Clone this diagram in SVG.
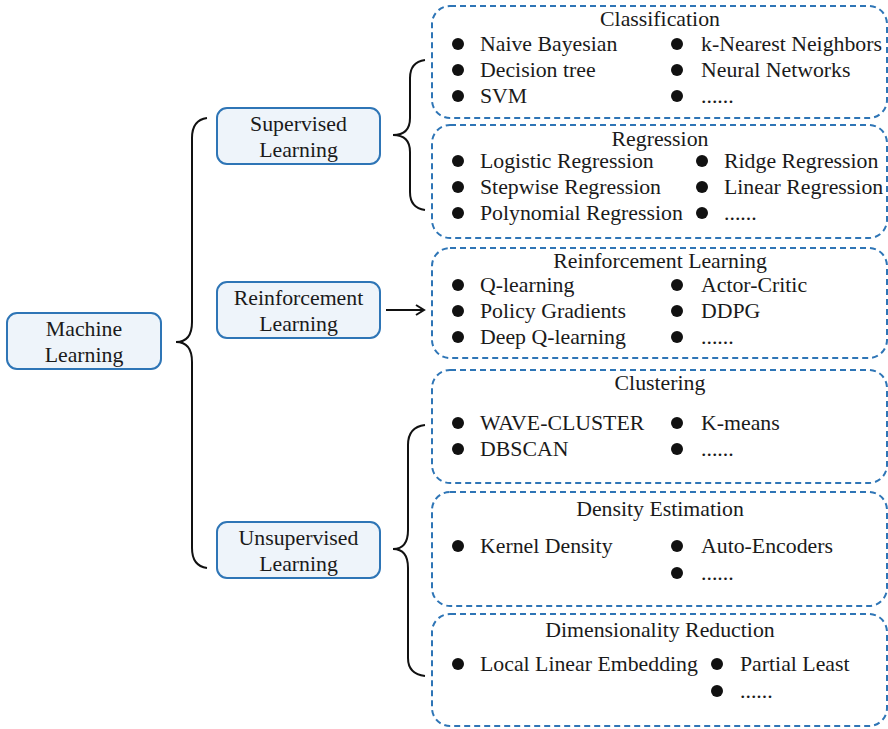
<svg xmlns="http://www.w3.org/2000/svg" width="888" height="729" viewBox="0 0 888 729">
<defs>
<style>
text{font-family:"Liberation Serif","Times New Roman",serif;font-size:21.8px;fill:#1a1a1a}
.t{text-anchor:middle}
.node{fill:#EEF4FA;stroke:#2E75B6;stroke-width:2}
.grp{fill:#fff;stroke:#2E75B6;stroke-width:2;stroke-dasharray:6 4}
.br{fill:none;stroke:#111;stroke-width:2}
.b{fill:#111}
</style>
<marker id="ah" markerWidth="12" markerHeight="12" refX="10" refY="6" orient="auto" markerUnits="userSpaceOnUse">
<path d="M2,1 L10,6 L2,11" fill="none" stroke="#111" stroke-width="2"/>
</marker>
</defs>
<rect width="888" height="729" fill="#fff"/>
<g id="connectors">
<path class="br" d="M207,118 Q192,120 192,138 L192,322 Q192,342 176,342 Q192,342 192,362 L192,548 Q192,566 207,568"/>
<path class="br" d="M425,60 Q410,62 410,78 L410,118 Q410,135 393,135 Q410,135 410,152 L410,192 Q410,208 425,210"/>
<path class="br" d="M425,425 Q408,427 408,445 L408,530 Q408,549 393,549 Q408,549 408,568 L408,658 Q408,674 425,676"/>
<line x1="386" y1="310" x2="424" y2="310" stroke="#111" stroke-width="2" marker-end="url(#ah)"/>
</g>
<g id="ml">
<rect class="node" x="7" y="313" width="154" height="56" rx="10"/>
<text class="t" x="84" y="336">Machine</text>
<text class="t" x="84" y="362">Learning</text>
</g>
<g id="supervised">
<rect class="node" x="217" y="108" width="163" height="56" rx="10"/>
<text class="t" x="298.5" y="131">Supervised</text>
<text class="t" x="298.5" y="157">Learning</text>
</g>
<g id="reinforcement">
<rect class="node" x="217" y="282" width="163" height="56" rx="10"/>
<text class="t" x="298.5" y="305">Reinforcement</text>
<text class="t" x="298.5" y="331">Learning</text>
</g>
<g id="unsupervised">
<rect class="node" x="217" y="522" width="163" height="56" rx="10"/>
<text class="t" x="298.5" y="545">Unsupervised</text>
<text class="t" x="298.5" y="571">Learning</text>
</g>
<g id="classification">
<rect class="grp" x="432" y="6" width="455" height="112" rx="18"/>
<text class="t" x="660" y="26">Classification</text>
<circle class="b" cx="458" cy="44" r="6"/><text x="480" y="51">Naive Bayesian</text>
<circle class="b" cx="458" cy="70" r="6"/><text x="480" y="77">Decision tree</text>
<circle class="b" cx="458" cy="96" r="6"/><text x="480" y="103">SVM</text>
<circle class="b" cx="677" cy="44" r="6"/><text x="701" y="51">k-Nearest Neighbors</text>
<circle class="b" cx="677" cy="70" r="6"/><text x="701" y="77">Neural Networks</text>
<circle class="b" cx="677" cy="96" r="6"/><text x="701" y="103">......</text>
</g>
<g id="regression">
<rect class="grp" x="432" y="125" width="455" height="113" rx="18"/>
<text class="t" x="660" y="146">Regression</text>
<circle class="b" cx="458" cy="161" r="6"/><text x="480" y="168">Logistic Regression</text>
<circle class="b" cx="458" cy="187" r="6"/><text x="480" y="194">Stepwise Regression</text>
<circle class="b" cx="458" cy="213" r="6"/><text x="480" y="220">Polynomial Regression</text>
<circle class="b" cx="702" cy="161" r="6"/><text x="724" y="168">Ridge Regression</text>
<circle class="b" cx="702" cy="187" r="6"/><text x="724" y="194">Linear Regression</text>
<circle class="b" cx="702" cy="213" r="6"/><text x="724" y="220">......</text>
</g>
<g id="reinforcement-box">
<rect class="grp" x="432" y="248" width="455" height="110" rx="18"/>
<text class="t" x="660" y="268">Reinforcement Learning</text>
<circle class="b" cx="458" cy="285" r="6"/><text x="480" y="292">Q-learning</text>
<circle class="b" cx="458" cy="311" r="6"/><text x="480" y="318">Policy Gradients</text>
<circle class="b" cx="458" cy="337" r="6"/><text x="480" y="344">Deep Q-learning</text>
<circle class="b" cx="677" cy="285" r="6"/><text x="701" y="292">Actor-Critic</text>
<circle class="b" cx="677" cy="311" r="6"/><text x="701" y="318">DDPG</text>
<circle class="b" cx="677" cy="337" r="6"/><text x="701" y="344">......</text>
</g>
<g id="clustering">
<rect class="grp" x="432" y="370" width="455" height="113" rx="18"/>
<text class="t" x="660" y="390">Clustering</text>
<circle class="b" cx="458" cy="423" r="6"/><text x="480" y="430">WAVE-CLUSTER</text>
<circle class="b" cx="458" cy="449" r="6"/><text x="480" y="456">DBSCAN</text>
<circle class="b" cx="677" cy="423" r="6"/><text x="701" y="430">K-means</text>
<circle class="b" cx="677" cy="449" r="6"/><text x="701" y="456">......</text>
</g>
<g id="density">
<rect class="grp" x="432" y="492" width="455" height="114" rx="18"/>
<text class="t" x="660" y="516">Density Estimation</text>
<circle class="b" cx="458" cy="546" r="6"/><text x="480" y="553">Kernel Density</text>
<circle class="b" cx="677" cy="546" r="6"/><text x="701" y="553">Auto-Encoders</text>
<circle class="b" cx="677" cy="573" r="6"/><text x="701" y="580">......</text>
</g>
<g id="dimensionality">
<rect class="grp" x="432" y="614" width="455" height="112" rx="18"/>
<text class="t" x="660" y="637">Dimensionality Reduction</text>
<circle class="b" cx="458" cy="664" r="6"/><text x="480" y="671">Local Linear Embedding</text>
<circle class="b" cx="717" cy="664" r="6"/><text x="740" y="671">Partial Least</text>
<circle class="b" cx="717" cy="691" r="6"/><text x="740" y="698">......</text>
</g>
</svg>
